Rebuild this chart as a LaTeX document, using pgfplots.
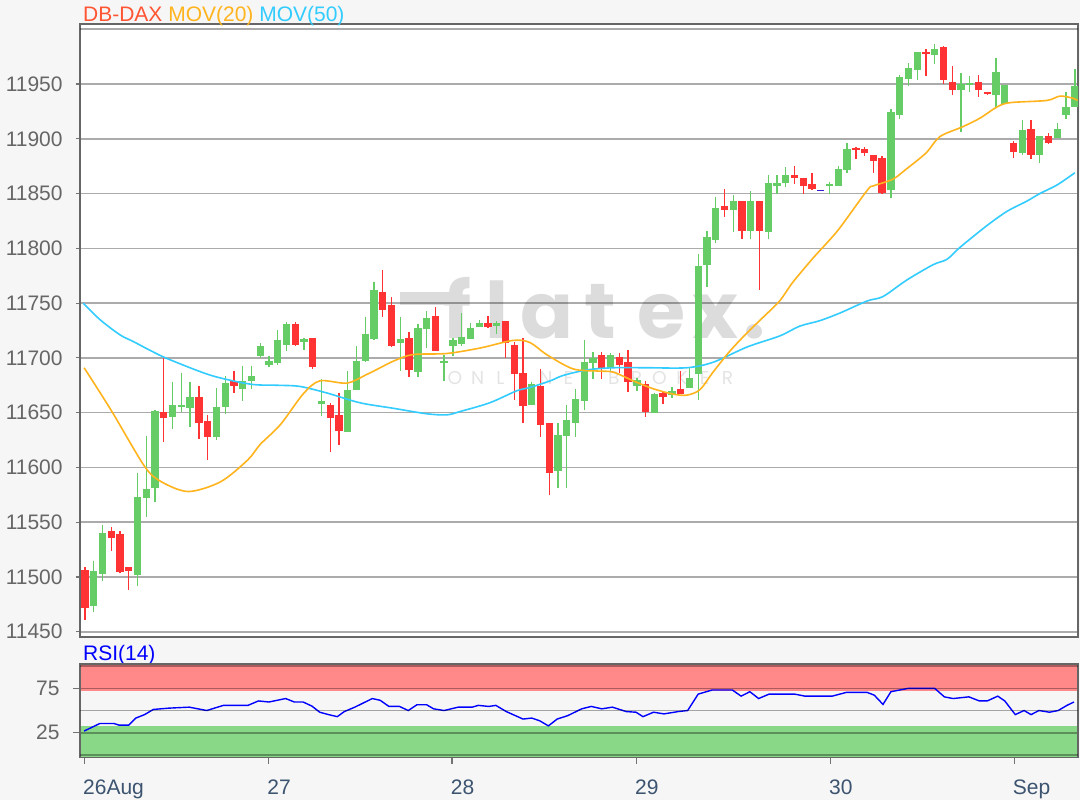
\documentclass[border=0pt]{standalone}
\usepackage{fontspec}
\setmainfont{Liberation Sans}
\newfontfamily\wmfont{Poppins}
\usepackage{pgfplots}
\usepackage{pgfplotstable}
\pgfplotsset{compat=1.18}

\definecolor{bgc}{HTML}{F6F6F6}
\definecolor{cgreen}{HTML}{66CC66}
\definecolor{cred}{HTML}{FF3333}
\definecolor{cdoji}{HTML}{3322CC}
\definecolor{ma20}{HTML}{FFB41E}
\definecolor{ma50}{HTML}{33CCFF}
\definecolor{ttl}{HTML}{FF5533}
\definecolor{bandred}{HTML}{FF8888}
\definecolor{bandgreen}{HTML}{88D888}
\definecolor{xlab}{HTML}{3C5470}
\definecolor{ylab}{HTML}{666666}
\definecolor{wm}{HTML}{DCDCDC}
\definecolor{wmlight}{HTML}{E4E4E4}

% candles: index, open, high, low, close
\pgfplotstableread{
i o h l c
1 11474 11515 11468 11506
2 11503 11548 11496 11540
6 11502 11595 11492 11573
7 11572 11629 11555 11580
8 11581 11652 11568 11652
10 11646 11678 11635 11657
11 11656 11686 11651 11657
12 11654 11678 11637 11664
15 11628 11673 11625 11655
16 11655 11684 11649 11677
18 11672 11693 11661 11679
19 11679 11693 11672 11684
20 11702 11714 11700 11711
21 11694 11702 11692 11697
22 11695 11726 11694 11716
23 11712 11733 11706 11731
25 11715 11718 11707 11717
27 11658 11681 11647 11661
30 11632 11688 11632 11671
31 11671 11711 11671 11697
32 11697 11737 11696 11722
33 11717 11769 11716 11762
36 11714 11737 11688 11717
38 11687 11731 11683 11727
39 11726 11743 11709 11736
41 11695 11703 11679 11697
42 11711 11718 11702 11716
43 11713 11741 11711 11719
44 11717 11732 11717 11727
45 11728 11735 11728 11732
47 11729 11734 11722 11732
51 11657 11678 11657 11676
54 11597 11641 11581 11630
55 11629 11657 11581 11643
56 11641 11672 11628 11663
57 11661 11716 11652 11696
58 11695 11705 11681 11700
60 11691 11705 11687 11703
63 11674 11682 11670 11680
65 11650 11668 11650 11667
67 11666 11673 11663 11670
69 11673 11691 11673 11682
70 11685 11795 11662 11784
71 11785 11816 11765 11810
72 11808 11847 11805 11837
74 11835 11849 11815 11843
76 11816 11852 11809 11843
78 11815 11867 11809 11860
79 11857 11867 11850 11860
80 11860 11874 11856 11867
85 11857 11861 11850 11859
86 11857 11875 11857 11872
87 11872 11896 11869 11891
92 11853 11927 11846 11925
93 11922 11958 11918 11956
94 11955 11969 11948 11965
95 11963 11979 11954 11979
97 11977 11987 11968 11982
100 11945 11960 11906 11950
101 11950 11957 11943 11951
104 11940 11974 11929 11961
105 11932 11949 11932 11949
107 11887 11917 11885 11908
109 11885 11903 11878 11903
111 11901 11914 11901 11909
112 11922 11943 11918 11929
113 11929 11964 11929 11948
}\upcandles

\pgfplotstableread{
i o h l c
0 11506 11509 11461 11472
3 11542 11546 11524 11536
4 11539 11542 11504 11505
5 11509 11509 11488 11505
9 11651 11700 11623 11645
13 11664 11674 11626 11641
14 11642 11648 11607 11628
17 11679 11688 11668 11674
24 11731 11733 11711 11712
26 11718 11718 11690 11692
28 11657 11659 11614 11645
29 11648 11668 11621 11633
34 11760 11780 11737 11744
35 11748 11756 11710 11711
37 11718 11724 11683 11689
40 11738 11747 11706 11706
46 11732 11738 11727 11728
48 11734 11734 11700 11714
49 11712 11715 11662 11685
50 11686 11718 11641 11656
52 11674 11690 11628 11639
53 11641 11641 11575 11595
59 11703 11705 11681 11691
61 11701 11705 11686 11694
62 11696 11707 11669 11678
64 11676 11679 11646 11651
66 11668 11669 11658 11664
68 11672 11688 11667 11667
73 11839 11854 11829 11835
75 11843 11843 11809 11816
77 11843 11843 11762 11816
81 11867 11875 11859 11864
82 11864 11864 11850 11857
83 11859 11869 11853 11854
88 11892 11893 11882 11890
89 11891 11893 11884 11887
90 11885 11885 11869 11880
91 11883 11884 11850 11851
96 11979 11982 11957 11977
98 11984 11985 11950 11954
99 11952 11967 11940 11945
102 11952 11958 11938 11945
103 11943 11943 11940 11941
106 11896 11898 11883 11888
108 11909 11917 11882 11885
110 11903 11905 11895 11896
}\downcandles

\pgfplotstableread{
i o h l c
84 11853 11853 11853 11853
}\flatcandles

\pgfplotstableread{
x y
-0.1 11691
3.0 11652
6.8 11601
8.7 11587
11.8 11578
15.5 11587
18.6 11607
20.0 11621
22.3 11639
24.9 11667
26.8 11679
29.9 11677
32.2 11685
33.7 11691
35.2 11697
37.4 11703
41.3 11704
45.1 11709
48.9 11716
50.8 11714
52.7 11703
55.7 11690
58.5 11688
60.3 11687
62.6 11679
64.8 11672
67.1 11667
68.7 11666
70.2 11671
71.7 11687
73.6 11706
75.6 11723
77.4 11737
79.3 11752
80.8 11769
83.1 11791
84.7 11805
86.2 11819
89.3 11853
90.0 11857
92.2 11863
93.7 11872
96.0 11887
97.6 11902
100.2 11911
102.2 11919
104.1 11929
105.6 11933
109.8 11935
111.3 11939
112.8 11937
113.3 11935
}\movtwenty

\pgfplotstableread{
x y
-0.2 11750
1.7 11735
4.0 11721
5.5 11715
7.4 11707
9.5 11699
14.4 11684
18.9 11676
22.0 11675
24.5 11674
27.6 11668
31.4 11659
35.2 11654
39.0 11649
41.3 11648
42.8 11651
46.2 11659
49.3 11670
50.8 11673
53.1 11679
54.6 11684
57.3 11689
60.3 11691
64.2 11691
68.7 11691
71.7 11696
75.6 11710
79.3 11720
81.6 11729
83.9 11734
86.2 11741
89.3 11752
91.1 11756
93.8 11771
96.8 11785
98.4 11790
99.9 11801
103.0 11821
105.3 11834
107.5 11843
109.0 11850
111.0 11858
113.0 11869
}\movfifty

\pgfplotstableread{
x y
-0.1 26.9
1.7 35.4
3.3 35.4
3.9 33.5
5.0 33.5
5.8 41.5
6.8 45.4
7.8 51.2
9.6 52.7
11.9 53.8
13.9 50.0
15.8 55.8
18.6 55.8
19.8 60.8
21.0 59.6
22.9 63.5
23.9 59.6
24.9 59.6
25.9 55.0
26.8 48.1
27.8 45.4
28.8 43.1
29.6 48.8
30.8 53.8
32.0 59.6
32.8 63.5
33.7 61.5
34.7 54.6
35.9 54.6
36.9 50.0
37.9 56.5
39.0 56.5
39.8 51.9
41.0 50.0
42.6 53.8
44.2 53.8
44.9 55.8
46.1 54.6
46.9 55.8
48.1 48.8
50.0 40.4
51.0 41.5
51.9 38.5
52.9 32.7
53.9 40.4
55.1 44.2
56.7 51.9
57.8 54.6
59.0 51.9
60.2 53.8
61.8 48.8
62.9 48.1
63.7 43.1
64.9 48.1
66.1 46.2
67.7 48.8
68.8 50.0
70.0 68.5
71.6 73.1
73.9 73.1
74.9 66.2
75.9 71.2
76.9 63.5
78.1 68.5
81.0 68.5
82.2 66.2
85.3 66.2
86.9 70.4
89.3 70.4
90.1 67.3
91.1 56.9
92.0 71.2
94.0 75.0
97.0 75.0
98.1 65.4
99.1 63.5
100.9 65.4
102.1 60.8
103.0 60.8
104.2 66.2
105.0 60.8
106.2 45.4
107.2 50.0
108.0 45.4
108.9 50.0
110.1 48.1
111.1 50.0
112.1 55.8
112.9 59.6
}\rsi

\pgfplotsset{
  chartfont/.style={font=\fontsize{10.5}{12}\selectfont},
  wick/.style={draw=none, mark=none,
    error bars/.cd, y dir=both, y explicit, error mark=none,
    error bar style={draw=#1, line width=0.65pt}},
  body/.style={draw=none, mark=none,
    error bars/.cd, y dir=both, y explicit, error mark=none,
    error bar style={draw=#1, line width=3.65pt}},
  panel/.style={
    scale only axis, width=499pt,
    xmin=-0.57, xmax=113.36,
    ymajorgrids,
    major grid style={draw=black, opacity=0.33, line width=0.8pt},
    axis line style={draw=black!60, line width=0.8pt},
    tick align=outside,
    tick style={draw=black!55, line width=0.6pt},
    ytick pos=left,
    scaled y ticks=false,
    /pgf/number format/1000 sep={},
    /pgf/number format/assume math mode=true,
    yticklabel style={chartfont, text=ylab, inner sep=0pt, xshift=-6.5pt},
    extra y tick style={tick style={draw=none}},
  },
}

\begin{document}
\begin{tikzpicture}
\useasboundingbox (0,0) rectangle (540pt,400pt);
\fill[bgc] (0,0) rectangle (540pt,400pt);
\fill[white] (40pt,81.5pt) rectangle (539pt,388pt);

% watermark
\fill[wm] (200pt,247.5pt) rectangle (226pt,254pt);
\foreach \ch/\px in {f/229,l/248.5,a/273.5,t/300,e/331,x/357.5,./377}
  \node[anchor=base, inner sep=0pt, text=wm, font=\wmfont\bfseries\fontsize{39}{40}\selectfont] at (\px pt,231pt) {\ch};
\foreach \ch/\k in {O/0,N/1,L/2,I/3,N/4,E/5,B/7,R/8,O/9,K/10,E/11,R/12}
  \node[anchor=base, inner sep=0pt, text=wmlight, font=\wmfont\fontsize{9.3}{10}\selectfont] at ({227.5pt+11.35pt*\k},207.75pt) {\ch};

% price panel
\begin{axis}[
  panel,
  at={(40pt,81.5pt)}, anchor=south west,
  height=306.5pt,
  ymin=11445.2, ymax=12004.8,
  xtick=\empty,
  ytick={11450,11500,...,11950},
  extra y ticks={12000}, extra y tick labels={},
  major tick length=2pt,
]
\addplot[wick=cgreen] table[x=i, y expr={(\thisrow{h}+\thisrow{l})/2}, y error expr={(\thisrow{h}-\thisrow{l})/2}] {\upcandles};
\addplot[body=cgreen] table[x=i, y expr={(\thisrow{o}+\thisrow{c})/2}, y error expr={max(abs(\thisrow{o}-\thisrow{c})/2,0.7)}] {\upcandles};
\addplot[wick=cred] table[x=i, y expr={(\thisrow{h}+\thisrow{l})/2}, y error expr={(\thisrow{h}-\thisrow{l})/2}] {\downcandles};
\addplot[body=cred] table[x=i, y expr={(\thisrow{o}+\thisrow{c})/2}, y error expr={max(abs(\thisrow{o}-\thisrow{c})/2,0.7)}] {\downcandles};
\addplot[body=cdoji] table[x=i, y expr={(\thisrow{o}+\thisrow{c})/2}, y error expr={0.7}] {\flatcandles};
\addplot[ma50, line width=0.8pt, smooth] table {\movfifty};
\addplot[ma20, line width=0.8pt, smooth] table {\movtwenty};
\end{axis}

\node[anchor=base west, inner sep=0pt, font=\fontsize{10.5}{12}\selectfont] at (41.35pt,389.2pt)
  {\textcolor{ttl}{DB-DAX} \textcolor{ma20}{MOV(20)} \textcolor{ma50}{MOV(50)}};
\node[anchor=base west, inner sep=0pt, text=blue, font=\fontsize{10.5}{12}\selectfont] at (41.35pt,69.65pt) {RSI(14)};

% RSI panel
\begin{axis}[
  panel,
  at={(40pt,21.35pt)}, anchor=south west,
  height=46.65pt,
  ymin=-2.7, ymax=102.4,
  axis on top,
  xtick={-0.07,20.96,41.9,62.94,85.08,106.07},
  xticklabels={26Aug,27,28,29,30,Sep},
  xtick pos=bottom,
  major tick length=3.5pt,
  ytick={25,75},
  extra y ticks={0,50,100}, extra y tick labels={},
  xticklabel style={chartfont, text=xlab, anchor=north west, inner sep=0pt, xshift=-0.8pt, yshift=-7.5pt},
]
\fill[bandred] (axis cs:-0.57,72.3) rectangle (axis cs:113.36,102.4);
\fill[bandgreen] (axis cs:-0.57,-2.7) rectangle (axis cs:113.36,32.9);
\addplot[blue, line width=0.7pt] table {\rsi};
\end{axis}
\end{tikzpicture}
\end{document}
